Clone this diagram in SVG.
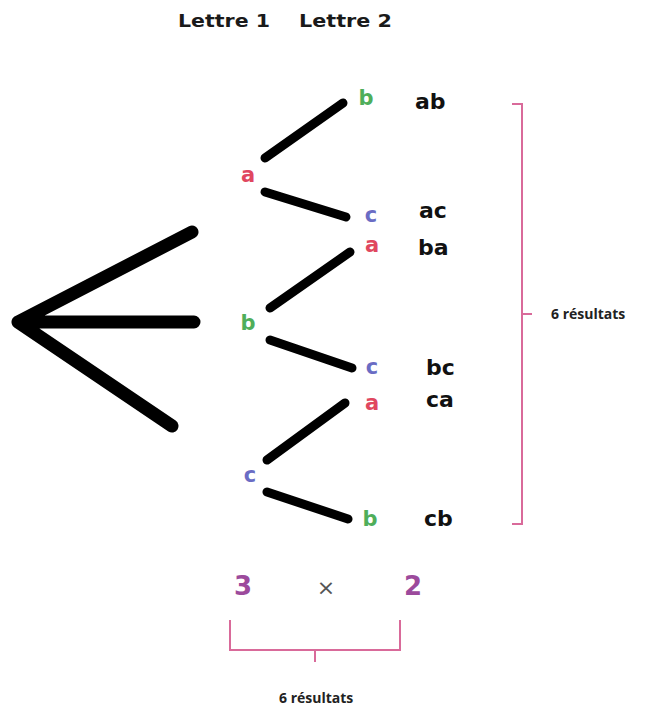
<svg xmlns="http://www.w3.org/2000/svg" width="645" height="709" viewBox="0 0 645 709">
<style>
.hdr{font-family:"DejaVu Sans",Verdana,sans-serif;font-weight:bold;font-size:17px;fill:#1a1a1a}
.lt{font-family:"DejaVu Sans",sans-serif;font-weight:bold;font-size:21px;text-anchor:middle}
.res{font-family:"DejaVu Sans",sans-serif;font-weight:bold;font-size:22px;fill:#111}
.sm{font-family:"Open Sans","DejaVu Sans",sans-serif;font-weight:bold;font-size:14px;fill:#222}
.num{font-family:"DejaVu Sans",sans-serif;font-weight:bold;font-size:26px;fill:#9c4a9c;text-anchor:middle}
.ra{fill:#e0475f}.gb{fill:#4fae5a}.bc{fill:#6a6cc4}
.br{stroke:#000;stroke-width:9;stroke-linecap:round;fill:none}
.fan{stroke:#000;stroke-width:13;stroke-linecap:round;stroke-linejoin:round;fill:none}
.brk{stroke:#d96a9a;stroke-width:2;fill:none}
</style>
<rect width="645" height="709" fill="#fff"/>
<g id="header">
<text class="hdr" x="178" y="27" textLength="92" lengthAdjust="spacingAndGlyphs">Lettre 1</text>
<text class="hdr" x="299" y="27" textLength="93" lengthAdjust="spacingAndGlyphs">Lettre 2</text>
</g>
<g id="connectors">
<path class="fan" d="M192 232 L18 322 L194 322 M18 322 L172 426"/>
<line class="br" x1="265" y1="158" x2="343" y2="103"/>
<line class="br" x1="265" y1="192" x2="346" y2="217"/>
<line class="br" x1="270" y1="308" x2="350" y2="252"/>
<line class="br" x1="270" y1="340" x2="352" y2="368"/>
<line class="br" x1="267" y1="460" x2="345" y2="403"/>
<line class="br" x1="267" y1="492" x2="348" y2="519"/>
</g>
<g id="node-a1"><text class="lt ra" x="248" y="182">a</text></g>
<g id="node-b1"><text class="lt gb" x="248" y="330">b</text></g>
<g id="node-c1"><text class="lt bc" x="250" y="482">c</text></g>
<g id="node-ab"><text class="lt gb" x="366" y="105">b</text><text class="res" x="415" y="109">ab</text></g>
<g id="node-ac"><text class="lt bc" x="371" y="222">c</text><text class="res" x="419" y="218">ac</text></g>
<g id="node-ba"><text class="lt ra" x="372" y="252">a</text><text class="res" x="418" y="255">ba</text></g>
<g id="node-bc"><text class="lt bc" x="372" y="374">c</text><text class="res" x="426" y="375">bc</text></g>
<g id="node-ca"><text class="lt ra" x="372" y="410">a</text><text class="res" x="426" y="407">ca</text></g>
<g id="node-cb"><text class="lt gb" x="370" y="526">b</text><text class="res" x="424" y="526">cb</text></g>
<g id="bracket-right">
<path class="brk" d="M512 104 H522 V524 H512 M522 314 H532"/>
<text class="sm" x="551" y="319">6 résultats</text>
</g>
<g id="product">
<text class="num" x="243" y="595">3</text>
<text x="326" y="595" font-family="DejaVu Sans,sans-serif" font-size="22" fill="#555" text-anchor="middle">×</text>
<text class="num" x="413" y="595">2</text>
<path class="brk" d="M230 620 V650 H400 V620 M315 650 V662"/>
<text class="sm" x="279" y="703">6 résultats</text>
</g>
</svg>
